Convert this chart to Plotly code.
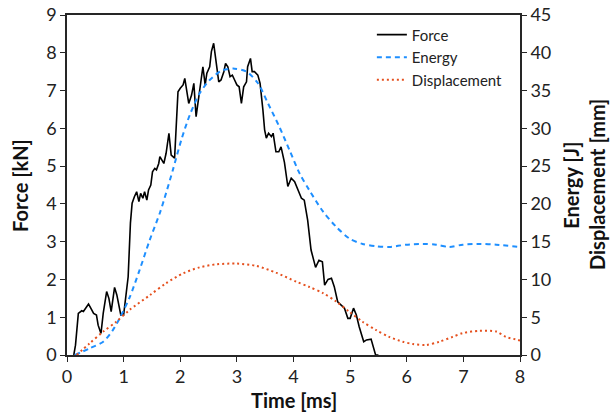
import plotly.graph_objects as go

# ---- data ----
force_t = [0.12, 0.15, 0.20, 0.26, 0.29, 0.33, 0.38, 0.42, 0.47, 0.52, 0.55, 0.60, 0.64, 0.70, 0.74,
           0.78, 0.84, 0.88, 0.92, 0.95, 1.00, 1.02, 1.06, 1.08, 1.12, 1.15, 1.19, 1.23, 1.27, 1.30,
           1.34, 1.37, 1.41, 1.44, 1.48, 1.51, 1.55, 1.58, 1.62, 1.64, 1.71, 1.75, 1.80, 1.84, 1.90,
           1.96, 2.00, 2.05, 2.08, 2.12, 2.15, 2.20, 2.24, 2.28, 2.31, 2.35, 2.40, 2.44, 2.47, 2.52,
           2.55, 2.59, 2.64, 2.68, 2.72, 2.77, 2.80, 2.84, 2.88, 2.92, 2.96, 3.00, 3.04, 3.08, 3.12,
           3.17, 3.19, 3.24, 3.27, 3.31, 3.37, 3.41, 3.46, 3.49, 3.52, 3.56, 3.61, 3.64, 3.69, 3.74,
           3.78, 3.84, 3.90, 3.96, 4.02, 4.08, 4.14, 4.19, 4.25, 4.31, 4.34, 4.39, 4.45, 4.51, 4.55,
           4.61, 4.67, 4.72, 4.78, 4.84, 4.90, 4.96, 5.00, 5.06, 5.11, 5.16, 5.24, 5.29, 5.37, 5.45,
           5.50]
force_kn = [0.00, 0.26, 1.10, 1.17, 1.15, 1.24, 1.35, 1.24, 1.10, 1.06, 0.79, 0.57, 1.11, 1.68, 1.50,
            1.15, 1.79, 1.59, 1.24, 1.06, 1.06, 1.28, 1.81, 2.07, 3.49, 4.02, 4.19, 4.32, 4.06, 4.28,
            4.15, 4.32, 4.10, 4.37, 4.50, 4.85, 4.94, 4.90, 5.07, 5.25, 5.07, 5.34, 5.87, 5.29, 5.21,
            6.97, 7.06, 7.15, 7.32, 6.97, 6.66, 6.88, 7.19, 6.31, 6.66, 7.10, 7.63, 7.15, 7.46, 7.63,
            8.03, 8.25, 7.68, 7.23, 7.28, 7.50, 7.72, 7.63, 7.37, 7.41, 7.28, 7.15, 7.10, 6.66, 7.10,
            7.23, 7.63, 7.85, 7.50, 7.50, 7.41, 7.19, 6.48, 5.96, 5.74, 5.87, 5.78, 5.87, 5.38, 5.38,
            5.51, 5.10, 4.46, 4.68, 4.59, 4.37, 4.15, 4.10, 3.57, 2.78, 2.60, 2.32, 2.51, 2.47, 1.85,
            2.00, 2.03, 1.81, 1.41, 1.32, 1.24, 0.97, 0.97, 1.24, 1.06, 0.75, 0.35, 0.40, 0.42, 0.00,
            0.00]

energy_t = [0.14, 0.40, 0.64, 0.81, 0.96, 1.11, 1.28, 1.46, 1.64, 1.72, 1.87, 2.02, 2.17, 2.34, 2.52,
            2.75, 2.96, 3.17, 3.37, 3.55, 3.75, 3.93, 4.11, 4.28, 4.52, 4.75, 4.99, 5.22, 5.46, 5.69,
            5.99, 6.28, 6.52, 6.75, 6.99, 7.28, 7.58, 8.00]
energy_j = [0.0, 0.88, 1.76, 3.3, 5.3, 7.7, 11.2, 15.2, 18.8, 20.7, 24.5, 28.5, 31.8, 34.6, 36.4,
            37.7, 37.9, 37.5, 36.0, 33.3, 30.2, 27.1, 24.0, 21.8, 19.0, 17.0, 15.4, 14.7, 14.4, 14.3,
            14.6, 14.7, 14.6, 14.3, 14.6, 14.7, 14.6, 14.3]

disp_t = [0.17, 0.40, 0.64, 0.87, 1.11, 1.46, 1.75, 2.05, 2.34, 2.64, 2.99, 3.34, 3.69, 4.05, 4.28,
          4.52, 4.75, 4.99, 5.22, 5.46, 5.69, 5.93, 6.11, 6.34, 6.58, 6.81, 6.99, 7.28, 7.58, 7.75,
          7.96, 8.00]
disp_mm = [0.0, 1.54, 3.1, 4.4, 6.0, 7.9, 9.5, 10.8, 11.6, 12.0, 12.1, 11.8, 10.9, 9.7, 9.0,
           8.2, 7.1, 5.7, 4.4, 3.3, 2.4, 1.76, 1.45, 1.32, 1.76, 2.4, 2.9, 3.2, 3.1, 2.4,
           2.0, 1.9]

x_ticks = [0, 1, 2, 3, 4, 5, 6, 7, 8]
force_ticks = [0, 1, 2, 3, 4, 5, 6, 7, 8, 9]
right_ticks = [0, 5, 10, 15, 20, 25, 30, 35, 40, 45]

FONT = "Lato"
AXC = "#262626"

fig = go.Figure()
fig.add_trace(go.Scatter(x=force_t, y=force_kn, mode="lines", name="Force",
                         line=dict(color="black", width=1.6)))
fig.add_trace(go.Scatter(x=energy_t, y=energy_j, mode="lines", name="Energy", yaxis="y2",
                         line=dict(color="#1E8FFF", width=2, dash="5px,4px", shape="spline", smoothing=0.8)))
fig.add_trace(go.Scatter(x=disp_t, y=disp_mm, mode="lines", name="Displacement", yaxis="y2",
                         line=dict(color="#E5501E", width=2, dash="2px,3px", shape="spline", smoothing=0.8)))

axis_common = dict(showgrid=False, zeroline=False, showline=True, linecolor=AXC, linewidth=1.6,
                   ticks="outside", ticklen=5, tickwidth=1.4, tickcolor=AXC, automargin=False,
                   tickfont=dict(family=FONT, size=18, color="#222"))

TITLE_FONT = dict(family=FONT, size=20, color="#111")

fig.update_layout(
    width=610, height=413,
    margin=dict(l=67, r=90, t=15, b=58, autoexpand=False),
    paper_bgcolor="white", plot_bgcolor="white",
    showlegend=True,
    legend=dict(x=0.673, y=0.99, xanchor="left", yanchor="top", bgcolor="rgba(0,0,0,0)",
                font=dict(family=FONT, size=15, color="#222"), tracegroupgap=0),
    xaxis=dict(range=[0, 8], tickvals=x_ticks, mirror=True, **axis_common),
    yaxis=dict(range=[0, 9], tickvals=force_ticks, **axis_common),
    yaxis2=dict(range=[0, 45], tickvals=right_ticks, overlaying="y", side="right", **axis_common),
    annotations=[
        dict(text="<b>Time [ms]</b>", xref="paper", yref="paper", x=0.5, y=-0.132,
             showarrow=False, xanchor="center", yanchor="middle", font=TITLE_FONT),
        dict(text="<b>Force [kN]</b>", xref="paper", yref="paper", x=-0.104, y=0.5,
             showarrow=False, textangle=-90, xanchor="center", yanchor="middle", font=TITLE_FONT),
        dict(text="<b>Energy [J]</b>", xref="paper", yref="paper", x=1.112, y=0.5,
             showarrow=False, textangle=-90, xanchor="center", yanchor="middle", font=TITLE_FONT),
        dict(text="<b>Displacement [mm]</b>", xref="paper", yref="paper", x=1.170, y=0.5,
             showarrow=False, textangle=-90, xanchor="center", yanchor="middle", font=TITLE_FONT),
    ],
)

# remove the page's default 8px body margin so the 610x413 figure fills the window exactly
fig.write_html("out.html", config={"displayModeBar": False},
               post_script="document.body.style.margin='0';")
